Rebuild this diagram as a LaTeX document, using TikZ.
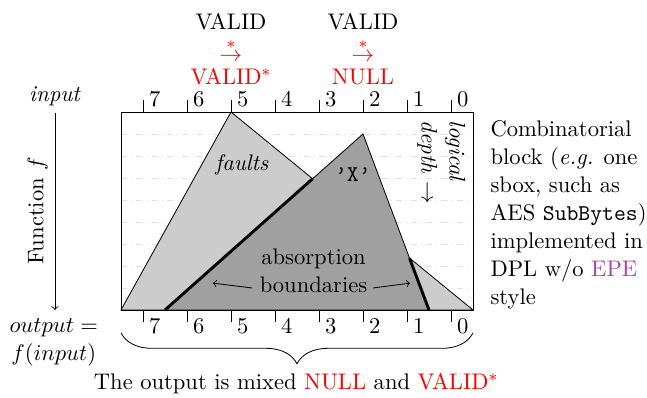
\documentclass[tikz,border=0pt]{standalone}
\usetikzlibrary{decorations.pathreplacing}
\definecolor{epe}{RGB}{165,70,165}
\definecolor{lightg}{RGB}{204,204,204}
\definecolor{darkg}{RGB}{160,160,160}
\begin{document}
\begin{tikzpicture}[x=0.75cm,y=0.75cm,
  every node/.style={font=\fontsize{10.95}{13.6}\selectfont},
  tri/.style={draw=black,line width=0.4pt},
  bound/.style={line width=1.4pt},
  guide/.style={draw=black!12,dash dot,line width=0.4pt},
  tickmark/.style={line width=0.4pt},
  ticklabel/.style={inner sep=0pt,anchor=base west},
  stack/.style={inner sep=0pt},
  conn/.style={->,line width=0.4pt}]
\useasboundingbox (-2.75,-2) rectangle (11.955,7.045);
% guide lines
\foreach \y in {0.5,1,...,4} \draw[guide] (0,\y) -- (8,\y);
% triangles
\coordinate (fl) at (0,0);
\coordinate (fa) at (2.5,4.5);
\coordinate (fr) at (8,0);
\coordinate (dl) at (1,0);
\coordinate (da) at (5.5,4);
\coordinate (dr) at (7,0);
\coordinate (il) at (4.355,2.982);
\coordinate (ir) at (6.558,1.178);
\filldraw[tri,fill=lightg] (fl) -- (fa) -- (fr) -- cycle;
\filldraw[tri,fill=darkg] (dl) -- (da) -- (dr) -- cycle;
\draw[bound] (dl) -- (il);
\draw[bound] (ir) -- (dr);
% box
\draw[line width=0.4pt] (0,0) rectangle (8,4.5);
% ticks
\foreach \i in {0,...,7} {
  \draw[tickmark] ({7.5-\i},4.5) -- ({7.5-\i},4.77);
  \node[ticklabel] (t\i) at ({7.63-\i},4.614) {\i};
  \draw[tickmark] ({7.5-\i},0) -- ({7.5-\i},-0.27);
  \node[ticklabel] (b\i) at ({7.63-\i},-0.53) {\i};
}
% inner labels
\node (faults) at (2.75,3.3) {\textit{faults}};
\node (xx) at (5.27,3.07) {\texttt{\textquoteright X\textquoteright}};
\node[rotate=-90,align=left,inner sep=0pt] (ld) at (7.28,3.36) {\textit{logical}\\\textit{depth} $\rightarrow$};
\node[align=center,inner sep=0pt] (ab) at (4.375,0.9) {absorption\\boundaries};
\coordinate (alt) at (2.98,0.5);
\coordinate (alh) at (2.09,0.61);
\coordinate (art) at (5.73,0.5);
\coordinate (arh) at (6.57,0.61);
\draw[conn] (alt) -- (alh);
\draw[conn] (art) -- (arh);
% top labels
\node[stack] (v1) at (2.5,6.55) {VALID};
\node[stack,red] (a1) at (2.5,5.91) {$\stackrel{*}{\rightarrow}$};
\node[stack,red] (r1) at (2.5,5.3) {VALID$^*$};
\node[stack] (v2) at (5.5,6.55) {VALID};
\node[stack,red] (a2) at (5.5,5.91) {$\stackrel{*}{\rightarrow}$};
\node[stack,red] (r2) at (5.5,5.3) {NULL};
% left
\node (in) at (-1.5,4.86) {\textit{input}};
\coordinate (fend) at (-1.5,0);
\draw[conn] (in.south) -- (fend);
\node[rotate=90] (fn) at (-1.89,2.25) {Function $f$};
\node[align=center,inner sep=0pt] (out) at (-1.53,-0.74) {$output=$\\$f(input)$};
% right text
\node[anchor=north west,align=left,inner sep=0pt] (desc) at (8.39,4.32)
  {Combinatorial\\block (\textit{e.g.} one\\sbox, such as\\AES \texttt{SubBytes})\\implemented in\\DPL w/o \textcolor{epe}{EPE}\\style};
% brace
\coordinate (bl) at (0,-0.52);
\coordinate (br) at (8,-0.52);
\draw[decorate,decoration={brace,mirror,amplitude=15pt},line width=0.4pt] (bl) -- (br);
\node (bt) at (3.98,-1.68) {The output is mixed \textcolor{red}{NULL} and \textcolor{red}{VALID$^*$}};
\end{tikzpicture}
\end{document}
